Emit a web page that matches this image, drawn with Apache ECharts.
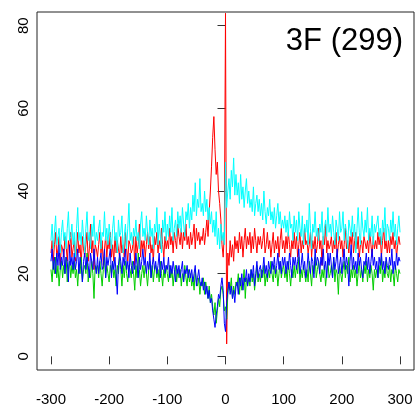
<!DOCTYPE html>
<html>
<head>
<meta charset="utf-8">
<script src="https://cdn.jsdelivr.net/npm/echarts@6/dist/echarts.min.js"></script>
<style>
html,body{margin:0;padding:0;background:#fff;}
#chart{width:416px;height:411px;}
</style>
</head>
<body>
<div id="chart"></div>
<script>
// sample grid: x from -300 to 300, step 2
const X_START = -300;
const X_STEP = 2;

const xTickValues = [-300, -200, -100, 0, 100, 200, 300];
const yTickValues = [0, 20, 40, 60, 80];
const titleText = "3F (299)";

const cyanValues = [
  28,32,26,30,34,27,29,31,25,30,
  33,28,30,26,31,35,28,29,32,27,
  30,24,31,36,28,30,27,33,29,25,
  31,35,28,30,26,32,29,34,27,30,
  28,31,33,26,30,29,35,28,31,27,
  32,29,26,31,34,28,30,25,33,29,
  30,34,25,29,32,26,31,37,28,30,
  27,31,29,33,28,30,26,32,35,29,
  31,28,34,30,27,33,29,31,26,32,
  30,36,27,32,29,25,33,30,35,28,
  32,29,34,30,36,28,31,33,29,35,
  31,34,30,36,32,29,35,33,37,31,
  36,33,39,35,42,34,38,36,43,35,
  37,34,40,35,38,33,36,32,35,30,
  33,29,35,27,31,26,32,28,30,27,
  47,36,40,43,38,45,41,48,39,44,
  39,42,37,44,38,41,36,40,43,37,
  40,36,38,35,41,34,37,39,35,38,
  34,37,33,40,35,32,36,34,38,33,
  35,32,36,31,34,37,32,35,31,33,
  31,34,30,33,29,35,31,32,28,34,
  30,33,28,35,31,29,34,27,32,30,
  33,27,37,31,26,32,30,35,29,31,
  28,32,30,35,27,31,33,29,36,30,
  32,29,34,30,27,33,31,28,35,30,
  31,35,28,32,30,26,33,31,29,34,
  29,32,25,31,36,30,27,35,31,29,
  33,30,36,28,31,29,34,27,32,30,
  30,34,29,31,27,33,30,36,28,32,
  31,28,33,30,35,29,32,27,31,34,
  30
];

const redValues = [
  25,28,23,27,30,24,26,29,22,27,
  26,24,29,27,23,28,25,30,24,26,
  28,23,26,30,25,27,22,29,26,24,
  27,30,23,26,32,25,28,21,27,26,
  24,27,30,25,28,22,26,29,24,28,
  26,30,24,27,23,29,25,28,26,24,
  29,25,27,24,30,26,23,28,27,25,
  26,29,22,29,25,27,32,24,28,26,
  28,24,27,30,26,29,25,27,23,29,
  27,30,25,28,26,31,27,24,29,26,
  28,26,31,27,29,25,30,28,26,32,
  29,27,31,26,30,28,32,27,29,26,
  30,27,29,32,26,31,28,30,27,29,
  28,31,27,30,33,29,35,40,46,53,
  58,50,44,47,40,37,33,27,24,30,
  83,3,25,22,28,24,27,23,29,26,
  28,25,30,26,29,24,28,31,26,29,
  27,30,25,29,26,31,28,25,29,27,
  29,26,28,31,25,27,30,26,28,24,
  27,30,25,28,26,29,24,28,31,26,
  28,25,29,26,30,27,24,28,26,30,
  26,29,24,27,30,25,28,26,31,27,
  28,25,27,30,24,28,26,29,25,27,
  31,26,28,22,29,27,32,25,28,26,
  27,29,25,28,26,30,24,27,29,26,
  28,24,27,31,26,28,25,29,27,30,
  25,28,30,26,29,24,27,28,25,29,
  29,26,28,25,30,27,24,29,26,28,
  26,30,27,29,24,28,31,26,28,25,
  28,25,29,27,30,26,28,24,27,29,
  27
];

const greenValues = [
  21,18,23,20,24,19,22,17,21,23,
  19,22,20,24,18,21,23,19,22,20,
  23,19,21,17,22,20,24,18,21,22,
  20,25,18,21,19,23,20,14,22,21,
  22,19,23,20,17,21,24,19,22,20,
  18,22,20,23,19,21,17,22,20,24,
  21,17,22,19,23,20,18,22,21,19,
  23,20,16,22,19,25,21,17,20,22,
  19,22,20,17,21,23,19,22,18,21,
  22,19,21,18,23,20,17,21,19,22,
  20,18,22,19,21,17,20,22,18,21,
  19,21,17,20,18,22,19,17,21,18,
  20,17,19,16,21,18,17,19,15,18,
  17,19,15,18,16,14,17,13,15,12,
  10,13,8,11,14,12,16,17,15,11,
  12,9,15,18,16,19,14,17,15,18,
  17,20,15,19,16,18,21,14,19,17,
  19,17,21,18,20,16,19,22,18,20,
  18,21,19,22,17,20,18,21,19,23,
  20,18,22,19,21,17,20,23,19,21,
  22,19,21,18,23,20,17,21,19,22,
  19,22,20,24,18,21,19,22,20,18,
  21,18,23,20,17,22,20,24,19,21,
  23,20,18,21,19,22,17,20,23,19,
  20,22,19,24,18,21,20,15,22,20,
  18,21,23,19,22,20,24,18,21,19,
  22,19,21,17,20,23,19,21,18,22,
  20,23,18,21,19,22,20,16,21,19,
  21,19,22,20,24,18,21,19,23,20,
  19,22,18,21,20,17,22,20,18,21,
  20
];

const blueValues = [
  23,26,21,24,20,25,22,27,21,24,
  22,26,20,24,23,18,27,22,24,21,
  25,21,23,26,20,24,22,18,23,25,
  21,24,22,19,25,23,21,26,22,20,
  24,20,23,25,21,22,26,19,24,22,
  22,26,19,23,21,24,20,15,22,25,
  23,20,24,22,26,21,23,19,25,22,
  20,23,21,25,22,19,24,21,23,26,
  22,24,20,23,21,25,19,22,24,21,
  23,20,22,25,19,23,21,24,20,22,
  21,24,19,22,20,23,21,18,22,20,
  22,19,21,23,18,21,20,22,19,21,
  19,21,18,20,22,17,19,21,18,17,
  19,16,18,15,17,14,16,13,14,11,
  9,7,10,12,15,14,17,19,16,8,
  6,13,16,18,15,17,14,16,13,17,
  18,15,19,17,20,16,19,18,21,17,
  20,18,21,19,22,17,20,23,19,21,
  22,19,21,24,20,22,19,23,21,20,
  23,21,24,20,22,25,21,23,20,24,
  22,24,20,23,21,25,22,19,24,22,
  24,21,23,26,20,22,25,21,23,19,
  21,25,22,20,24,23,19,26,22,24,
  23,20,24,22,26,21,23,19,25,22,
  25,22,19,24,21,23,26,20,22,24,
  20,23,26,21,24,22,17,23,27,21,
  24,21,23,20,25,22,24,21,19,23,
  22,25,21,24,20,23,26,22,24,21,
  23,19,24,22,25,21,23,20,24,22,
  21,24,22,26,20,23,21,25,22,24,
  23
];

function pairs(values) {
  return values.map((v, i) => [X_START + i * X_STEP, v]);
}

function lineSeries(name, values, color) {
  return {
    name: name,
    type: 'line',
    data: pairs(values),
    showSymbol: false,
    symbol: 'none',
    sampling: null,
    lineStyle: { color: color, width: 1 },
    itemStyle: { color: color },
    emphasis: { disabled: true },
    animation: false
  };
}

const chart = echarts.init(document.getElementById('chart'), null, { renderer: 'canvas' });

chart.setOption({
  animation: false,
  backgroundColor: '#ffffff',
  grid: {
    left: 37, right: 2, top: 12, bottom: 41,
    show: true, borderColor: '#222', borderWidth: 1,
    backgroundColor: 'transparent'
  },
  xAxis: {
    type: 'value',
    min: -324, max: 324,
    axisLine: { show: false },
    splitLine: { show: false },
    axisTick: { show: true, length: 8, inside: false, customValues: xTickValues, lineStyle: { color: '#333', width: 1 } },
    axisLabel: { show: true, customValues: xTickValues, margin: 22, fontSize: 15, color: '#000', fontFamily: 'Liberation Sans, Arial, sans-serif' }
  },
  yAxis: {
    type: 'value',
    min: -3.3, max: 83.3,
    axisLine: { show: false },
    splitLine: { show: false },
    axisTick: { show: true, length: 8, inside: false, customValues: yTickValues, lineStyle: { color: '#333', width: 1 } },
    axisLabel: { show: true, customValues: yTickValues, rotate: 90, margin: 6, fontSize: 15, color: '#000', fontFamily: 'Liberation Sans, Arial, sans-serif' }
  },
  graphic: [{
    type: 'text',
    right: 13,
    top: 26,
    style: {
      text: titleText,
      font: '31px "Liberation Sans", Arial, sans-serif',
      fill: '#000'
    }
  }],
  series: [
    lineSeries('red', redValues, '#FF0000'),
    lineSeries('green', greenValues, '#00CD00'),
    lineSeries('blue', blueValues, '#0000FF'),
    lineSeries('cyan', cyanValues, '#00FFFF')
  ]
});
</script>
</body>
</html>
